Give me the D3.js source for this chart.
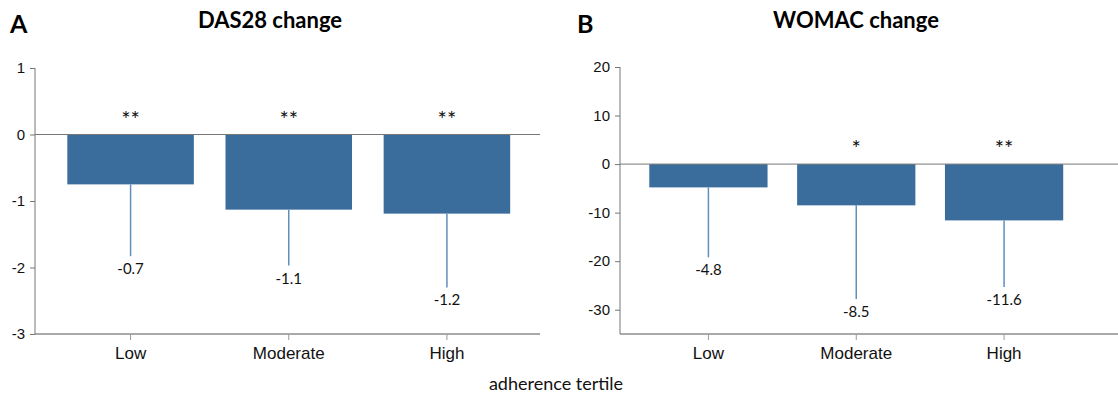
<!DOCTYPE html>
<html>
<head>
<meta charset="utf-8">
<script src="https://cdn.jsdelivr.net/npm/d3@7"></script>
<style>
  body { margin: 0; background: #fff; }
  svg { display: block; font-family: Lato, "Open Sans", sans-serif; }
</style>
</head>
<body>
<svg id="chart" width="1118" height="399"></svg>
<script>
var categories = ["Low", "Moderate", "High"];

// DAS28 change: mean, lower end of error bar, printed label, significance
var das_values = [-0.75, -1.13, -1.19];
var das_lower = [-1.83, -1.97, -2.30];
var das_labels = ["-0.7", "-1.1", "-1.2"];
var das_stars = ["**", "**", "**"];
var das_ticks = [1, 0, -1, -2, -3];

// WOMAC change
var womac_values = [-4.8, -8.5, -11.6];
var womac_lower = [-19.2, -27.8, -25.3];
var womac_labels = ["-4.8", "-8.5", "-11.6"];
var womac_stars = ["", "*", "**"];
var womac_ticks = [20, 10, 0, -10, -20, -30];

var svg = d3.select("#chart");

var panel = function(opts) {
    var g = svg.append("g");
    var x = d3.scaleBand().domain(categories).range(opts.xrange)
        .paddingInner(0.2).paddingOuter(0.1);
    var y = d3.scaleLinear().domain(opts.ydomain).range([334, opts.ytop]);

    // panel letter + title
    g.append("text").attr("x", opts.letterX).attr("y", 33)
        .style("font-size", "25px").style("font-weight", "bold").text(opts.letter);
    g.append("text").attr("x", opts.titleX).attr("y", 28).attr("text-anchor", "middle")
        .style("font-size", "22px").style("font-weight", "bold").text(opts.title);

    var rows = opts.values.map(function(v, i) {
        return { cat: categories[i], v: v, lo: opts.lower[i], label: opts.labels[i], star: opts.stars[i] };
    });

    // bars
    g.selectAll(".bar").data(rows).enter().append("rect")
        .attr("class", "bar")
        .attr("x", function(d) { return x(d.cat); })
        .attr("width", x.bandwidth())
        .attr("y", y(0))
        .attr("height", function(d) { return y(d.v) - y(0); })
        .attr("fill", "#3b6d9c");

    // error bars (downward only)
    g.selectAll(".err").data(rows).enter().append("line")
        .attr("x1", function(d) { return x(d.cat) + x.bandwidth() / 2; })
        .attr("x2", function(d) { return x(d.cat) + x.bandwidth() / 2; })
        .attr("y1", function(d) { return y(d.v); })
        .attr("y2", function(d) { return y(d.lo); })
        .attr("stroke", "#5f8fbd").attr("stroke-width", 1.5);

    g.selectAll(".vlab").data(rows).enter().append("text")
        .attr("x", function(d) { return x(d.cat) + x.bandwidth() / 2; })
        .attr("y", function(d) { return y(d.lo) + 18; })
        .attr("text-anchor", "middle").style("font-size", "15px").attr("fill", "#111")
        .text(function(d) { return d.label; });

    g.selectAll(".star").data(rows).enter().append("text")
        .attr("x", function(d) { return x(d.cat) + x.bandwidth() / 2; })
        .attr("y", y(0) - 8)
        .attr("text-anchor", "middle").style("font-size", "22px").attr("fill", "#111")
        .text(function(d) { return d.star; });

    // zero line
    g.append("line").attr("x1", opts.axisX).attr("x2", opts.axisEnd)
        .attr("y1", y(0)).attr("y2", y(0)).attr("stroke", "#777").attr("stroke-width", 1);

    // y axis
    var ya = g.append("g").attr("transform", "translate(" + opts.axisX + ",0)")
        .call(d3.axisLeft(y).tickValues(opts.ticks).tickSize(5).tickPadding(5)
            .tickFormat(function(d) { return String(d); }));
    ya.select(".domain").attr("stroke", "#777").attr("d", "M0," + y(opts.ydomain[1]) + "V334");
    ya.selectAll(".tick line").attr("stroke", "#777");
    ya.selectAll(".tick text").style("font-size", "15px").attr("fill", "#111");

    // x axis
    var xa = g.append("g").attr("transform", "translate(0,334)")
        .call(d3.axisBottom(x).tickSize(6).tickPadding(7));
    xa.select(".domain").attr("stroke", "#555").attr("d", "M" + opts.axisX + ",0H" + opts.axisEnd);
    xa.selectAll(".tick line").attr("stroke", "#999");
    xa.selectAll(".tick text").style("font-size", "17px").attr("fill", "#111");
};

panel({
    letter: "A", letterX: 10, title: "DAS28 change", titleX: 270,
    xrange: [51.5, 526], axisX: 35, axisEnd: 540,
    ydomain: [-3, 1], ytop: 68, ticks: das_ticks,
    values: das_values, lower: das_lower, labels: das_labels, stars: das_stars
});

panel({
    letter: "B", letterX: 577, title: "WOMAC change", titleX: 856,
    xrange: [634.5, 1078], axisX: 620, axisEnd: 1118,
    ydomain: [-35, 20], ytop: 67, ticks: womac_ticks,
    values: womac_values, lower: womac_lower, labels: womac_labels, stars: womac_stars
});

svg.append("text").attr("x", 556).attr("y", 390).attr("text-anchor", "middle")
    .style("font-size", "18px").attr("fill", "#111").text("adherence tertile");
</script>
</body>
</html>
